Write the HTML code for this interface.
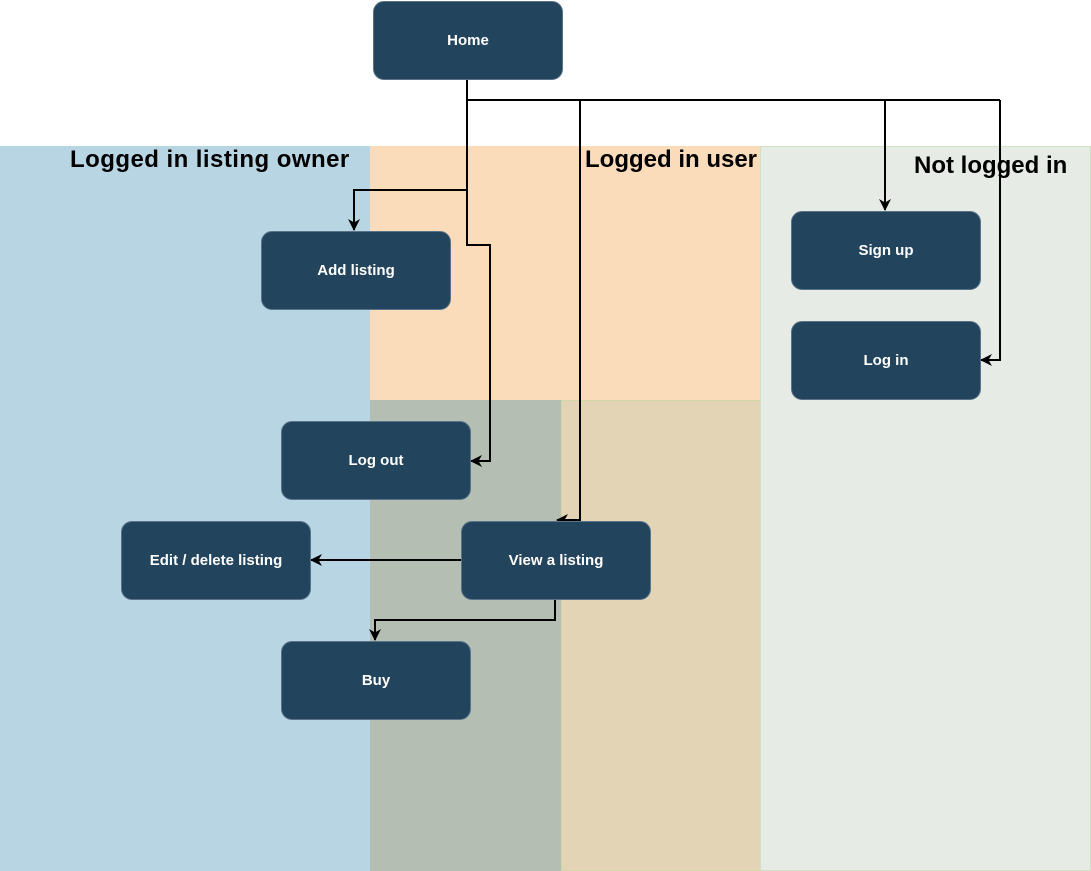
<!DOCTYPE html>
<html><head><meta charset="utf-8"><style>
body{margin:0;width:1091px;height:871px;background:#fff;overflow:hidden;position:relative;font-family:"Liberation Sans",sans-serif}
.r{position:absolute}
.n{position:absolute;width:190px;height:79px;background:#23445d;border:1px solid #5a7389;border-radius:11px;color:#fff;font-weight:bold;font-size:15px;display:flex;align-items:center;justify-content:center;box-sizing:border-box}
.t{position:absolute;font-weight:bold;font-size:24px;letter-spacing:0.45px;color:#000;white-space:nowrap}
svg{position:absolute;left:0;top:0}
</style></head><body>
<div class="r" style="left:0;top:146px;width:370px;height:725px;background:#b8d5e3"></div>
<div class="r" style="left:370px;top:146px;width:391px;height:725px;background:#fadcbb"></div>
<div class="r" style="left:370px;top:400px;width:191px;height:471px;background:#b4beb3"></div>
<div class="r" style="left:561px;top:400px;width:201px;height:471px;background:#e3d4b5;border:1px solid #d0d8a8;box-sizing:border-box"></div>
<div class="r" style="left:760px;top:146px;width:331px;height:725px;background:#e6ece5;border:1px solid #cfe0c3;box-sizing:border-box"></div>
<div class="t" style="left:70px;top:146px">Logged in listing owner</div>
<div class="t" style="left:585px;top:146px;letter-spacing:0">Logged in user</div>
<div class="t" style="left:914px;top:152px;letter-spacing:0">Not logged in</div>
<svg width="1091" height="871" fill="none" stroke="#000" stroke-width="2">
<defs><marker id="a" markerWidth="14" markerHeight="14" refX="11" refY="6" orient="auto" markerUnits="userSpaceOnUse"><path d="M0,0 L12,6 L0,12 L3.5,6 Z" fill="#000" stroke="none"/></marker></defs>
<path d="M467,79 V100 H1000"/>
<path d="M885,100 V210" marker-end="url(#a)"/>
<path d="M1000,100 V360 H981" marker-end="url(#a)"/>
<path d="M580,100 V520 H557" marker-end="url(#a)"/>
<path d="M467,100 V190 H354 V230" marker-end="url(#a)"/>
<path d="M467,190 V245 H490 V461 H471" marker-end="url(#a)"/>
<path d="M461,560 H311" marker-end="url(#a)"/>
<path d="M555,599 V620 H375 V640" marker-end="url(#a)"/>
</svg>
<div class="n" style="left:373px;top:1px">Home</div>
<div class="n" style="left:261px;top:231px">Add listing</div>
<div class="n" style="left:281px;top:421px">Log out</div>
<div class="n" style="left:121px;top:521px">Edit / delete listing</div>
<div class="n" style="left:461px;top:521px">View a listing</div>
<div class="n" style="left:281px;top:641px">Buy</div>
<div class="n" style="left:791px;top:211px">Sign up</div>
<div class="n" style="left:791px;top:321px">Log in</div>
</body></html>
